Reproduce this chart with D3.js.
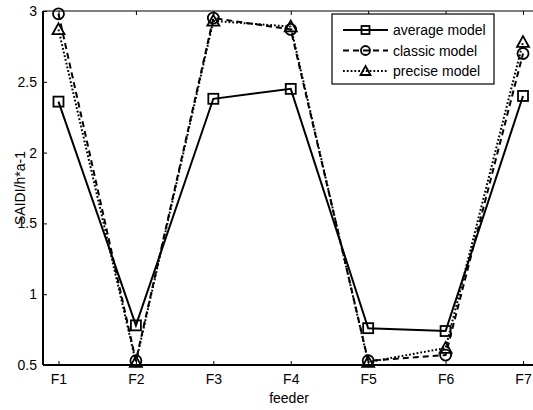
<!DOCTYPE html>
<html>
<head>
<meta charset="utf-8">
<script src="https://cdn.jsdelivr.net/npm/d3@7"></script>
<style>
  html, body { margin: 0; padding: 0; background: #fff; }
  svg { display: block; font-family: "Liberation Sans", Arial, sans-serif; }
</style>
</head>
<body>
<svg id="chart" width="533" height="410"></svg>
<script>
// Feeders and SAIDI values for each reliability model
const feeders = ["F1", "F2", "F3", "F4", "F5", "F6", "F7"];
const averageModel = [2.36, 0.78, 2.38, 2.45, 0.76, 0.74, 2.40];
const classicModel = [2.98, 0.53, 2.95, 2.87, 0.53, 0.57, 2.70];
const preciseModel = [2.87, 0.52, 2.93, 2.89, 0.52, 0.62, 2.78];
const yTicks = [0.5, 1, 1.5, 2, 2.5, 3];
const seriesNames = ["average model", "classic model", "precise model"];

const svg = d3.select("#chart");
const plotLeft = 43, plotRight = 538.5, plotTop = 11, plotBottom = 365;
const fontSize = 14;

const x = d3.scaleLinear().domain([0.8, 7.2]).range([plotLeft, plotRight]);
const y = d3.scaleLinear().domain([0.5, 3]).range([plotBottom, plotTop]);

const series = [
  { name: seriesNames[0], values: averageModel, dash: null, marker: "square" },
  { name: seriesNames[1], values: classicModel, dash: "6,4", marker: "circle" },
  { name: seriesNames[2], values: preciseModel, dash: "1.8,2", marker: "triangle" }
];

// Axes frame
svg.append("line").attr("x1", plotLeft).attr("x2", plotRight).attr("y1", plotTop).attr("y2", plotTop)
  .attr("stroke", "#000").attr("stroke-width", 1.2);
svg.append("line").attr("x1", plotLeft).attr("x2", plotRight).attr("y1", plotBottom).attr("y2", plotBottom)
  .attr("stroke", "#000").attr("stroke-width", 2);
svg.append("line").attr("x1", plotLeft).attr("x2", plotLeft).attr("y1", plotTop).attr("y2", plotBottom)
  .attr("stroke", "#000").attr("stroke-width", 2);

// Y axis: ticks pointing inward, labels to the left
const yAxis = d3.axisLeft(y).tickValues(yTicks).tickSize(-4).tickPadding(6)
  .tickFormat(d3.format("~g"));
const gy = svg.append("g").attr("transform", `translate(${plotLeft},0)`).call(yAxis);
gy.select(".domain").remove();
gy.selectAll("line").attr("stroke", "#000").attr("stroke-width", 1);
gy.selectAll("text").attr("font-size", fontSize).attr("fill", "#000")
  .attr("font-family", "Liberation Sans, Arial, sans-serif");

// X axis: ticks pointing inward at bottom and top
const xAxis = d3.axisBottom(x).tickValues(d3.range(1, feeders.length + 1))
  .tickSize(-4).tickPadding(9).tickFormat(i => feeders[i - 1]);
const gx = svg.append("g").attr("transform", `translate(0,${plotBottom})`).call(xAxis);
gx.select(".domain").remove();
gx.selectAll("line").attr("stroke", "#000").attr("stroke-width", 1);
gx.selectAll("text").attr("font-size", fontSize).attr("fill", "#000")
  .attr("font-family", "Liberation Sans, Arial, sans-serif");

const gxTop = svg.append("g").attr("transform", `translate(0,${plotTop})`)
  .call(d3.axisTop(x).tickValues(d3.range(1, feeders.length + 1)).tickSize(-4).tickFormat(""));
gxTop.select(".domain").remove();
gxTop.selectAll("line").attr("stroke", "#000").attr("stroke-width", 1);

// Axis titles
svg.append("text").attr("x", 289).attr("y", 403).attr("text-anchor", "middle")
  .attr("font-size", fontSize).text("feeder");
svg.append("text").attr("transform", `translate(25,${(plotTop + plotBottom) / 2}) rotate(-90)`)
  .attr("text-anchor", "middle").attr("font-size", fontSize).text("SAIDI/h*a-1");

// Marker drawing helper
function drawMarker(g, kind, cx, cy, size) {
  const h = size / 2;
  if (kind === "square") {
    g.append("rect").attr("x", cx - h).attr("y", cy - h).attr("width", size).attr("height", size)
      .attr("fill", "none").attr("stroke", "#000").attr("stroke-width", 1.8);
  } else if (kind === "circle") {
    g.append("circle").attr("cx", cx).attr("cy", cy).attr("r", h + 0.5)
      .attr("fill", "none").attr("stroke", "#000").attr("stroke-width", 1.8);
  } else {
    const s = h + 1;
    g.append("path")
      .attr("d", `M${cx},${cy - s} L${cx + s},${cy + s * 0.8} L${cx - s},${cy + s * 0.8} Z`)
      .attr("fill", "none").attr("stroke", "#000").attr("stroke-width", 1.8);
  }
}

const line = d3.line().x((d, i) => x(i + 1)).y(d => y(d));

series.forEach(s => {
  const g = svg.append("g");
  g.append("path").datum(s.values).attr("d", line)
    .attr("fill", "none").attr("stroke", "#000").attr("stroke-width", 2)
    .attr("stroke-dasharray", s.dash);
  s.values.forEach((v, i) => drawMarker(g, s.marker, x(i + 1), y(v), 10));
});

// Legend
const lg = svg.append("g");
lg.append("rect").attr("x", 332).attr("y", 14).attr("width", 162).attr("height", 70)
  .attr("fill", "#fff").attr("stroke", "#000").attr("stroke-width", 1.2);
series.forEach((s, i) => {
  const ly = 30 + i * 20.5;
  lg.append("line").attr("x1", 343).attr("x2", 388).attr("y1", ly).attr("y2", ly)
    .attr("stroke", "#000").attr("stroke-width", 2).attr("stroke-dasharray", s.dash);
  drawMarker(lg, s.marker, 365.5, ly, 8);
  lg.append("text").attr("x", 393).attr("y", ly + 5).attr("font-size", fontSize).text(s.name);
});
</script>
</body>
</html>
